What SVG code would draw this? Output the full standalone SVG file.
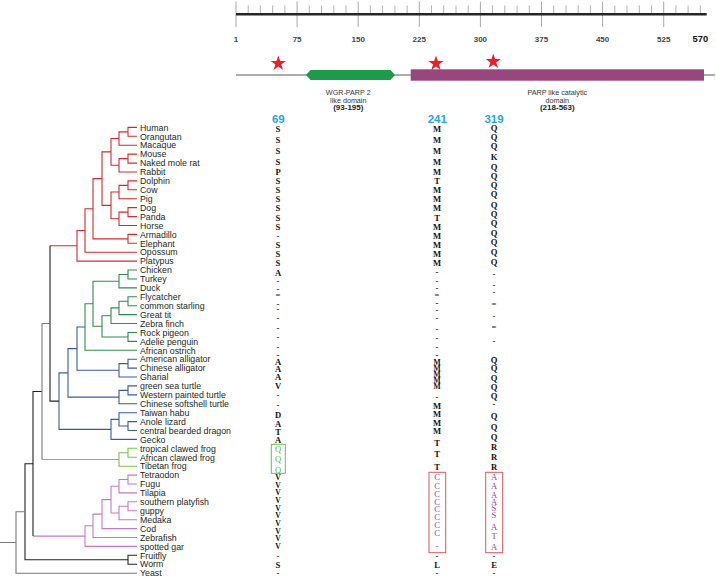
<svg xmlns="http://www.w3.org/2000/svg" width="716" height="577" viewBox="0 0 716 577">
<style>
.sp{font-family:"Liberation Sans",Arial,sans-serif;font-size:8.8px;fill:#231f20}
.aa{font-family:"Liberation Serif","Times New Roman",serif;font-size:8.6px;font-weight:bold;fill:#111;text-anchor:middle}
.tight{font-size:7.6px}
.pu{font-weight:normal;fill:#9e3f97}
.gr{font-weight:normal;fill:#5fb638}
.num{font-family:"Liberation Sans",Arial,sans-serif;font-size:11.5px;font-weight:bold;fill:#2aa4dd;text-anchor:middle}
.sc{font-family:"Liberation Sans",Arial,sans-serif;font-size:8px;font-weight:bold;fill:#444;text-anchor:middle}
.dl{font-family:"Liberation Sans",Arial,sans-serif;font-size:7.2px;fill:#333;text-anchor:middle}
.db{font-family:"Liberation Sans",Arial,sans-serif;font-size:8px;font-weight:bold;fill:#222;text-anchor:middle}
.t{fill:none;stroke-width:1.1}
</style>
<defs>
<polygon id="star" points="0,-8 1.82,-2.5 7.61,-2.47 2.94,0.96 4.7,6.47 0,3.1 -4.7,6.47 -2.94,0.96 -7.61,-2.47 -1.82,-2.5" fill="#e8202a"/>
</defs>
<rect width="716" height="577" fill="#fff"/>

<g id="scale">
<path d="M236 1.5V27M297.1 1.5V27M358.2 1.5V27M419.3 1.5V27M480.4 1.5V27M541.5 1.5V27M602.6 1.5V27M663.7 1.5V27" stroke="#a8a8a8" stroke-width="1"/>
<path d="M248.2 5.5V14M260.4 5.5V14M272.7 5.5V14M284.9 5.5V14M309.3 5.5V14M321.5 5.5V14M333.8 5.5V14M346 5.5V14M370.4 5.5V14M382.6 5.5V14M394.9 5.5V14M407.1 5.5V14M431.5 5.5V14M443.7 5.5V14M456 5.5V14M468.2 5.5V14M492.6 5.5V14M504.8 5.5V14M517.1 5.5V14M529.3 5.5V14M553.7 5.5V14M566 5.5V14M578.2 5.5V14M590.4 5.5V14M614.8 5.5V14M627 5.5V14M639.3 5.5V14M651.5 5.5V14M675.9 5.5V14M688.1 5.5V14M700.4 5.5V14" stroke="#a8a8a8" stroke-width="0.9"/>
<line x1="236" y1="14.3" x2="706.7" y2="14.3" stroke="#262626" stroke-width="2.6"/>
<text class="sc" x="236" y="42">1</text>
<text class="sc" x="297.1" y="42">75</text>
<text class="sc" x="358.2" y="42">150</text>
<text class="sc" x="419.3" y="42">225</text>
<text class="sc" x="480.4" y="42">300</text>
<text class="sc" x="541.5" y="42">375</text>
<text class="sc" x="602.6" y="42">450</text>
<text class="sc" x="663.7" y="42">525</text>
<text class="sc" x="700.3" y="42" style="font-size:9.4px;fill:#111">570</text>
</g>

<g id="protein">
<line x1="236" y1="75" x2="715" y2="75" stroke="#5a5a5a" stroke-width="1.2"/>
<polygon id="wgr" points="306,75 310.5,70 390.5,70 395,75 390.5,80 310.5,80" fill="#1e9b4a"/>
<rect id="parp" x="410.7" y="69.3" width="293.3" height="11.4" fill="#97477d"/>
<use href="#star" x="278.3" y="63.5"/>
<use href="#star" x="436" y="63.5"/>
<use href="#star" x="493.3" y="61.5"/>
<text class="dl" x="348.3" y="95">WGR-PARP 2</text>
<text class="dl" x="348.3" y="102.5">like domain</text>
<text class="db" x="348.3" y="110">(93-195)</text>
<text class="dl" x="557.3" y="95">PARP like catalytic</text>
<text class="dl" x="557.3" y="102.5">domain</text>
<text class="db" x="557.3" y="110">(218-563)</text>
</g>

<g id="connectors">
<path class="t" stroke="#d42a2f" d="M137 127.4H128V136.3H137M128 131.85H119V145.2H137M119 138.5H111V165.3H119M137 154.1H128V163.1H137M128 158.6H119V172H137M111 151.9H102V205.4H111M137 180.9H128V189.8H137M128 185.35H119V198.7H137M119 192H111V218.8H119M137 207.6H128V216.6H137M128 212.1H119V225.5H137M102 178.65H93V238.85H128M137 234.4H128V243.3H137M93 208.75H85V252.2H137M85 230.5H77V261.1H137M77 245.8H50"/>
<path class="t" stroke="#2f8a4e" d="M137 270H128V279H137M128 274.5H119V287.9H137M137 296.8H128V305.7H137M128 301.25H119V314.6H137M119 307.9H111V323.5H137M137 332.5H128V341.4H137M111 315.7H102V336.95H128M119 281.2H93V326.3H102M93 303.75H85V350.3H137"/>
<path class="t" stroke="#3a5aa6" d="M85 327H77V370.3H119M137 359.2H128V368.1H137M128 363.65H119V377H137M77 348.65H68V397.1H119M137 385.9H128V394.9H137M128 390.4H119V403.8H137M68 372.9H59V429.4H111M137 421.6H128V430.5H137M128 426.05H119V412.7H137M119 419.4H111V439.4H137"/>
<path class="t" stroke="#7cc142" d="M137 448.3H128V457.3H137M128 452.8H119V466.2H137M119 459.5H42"/>
<path class="t" stroke="#c47ac3" d="M137 475.1H128V484H137M128 479.55H119V492.9H137M137 501.8H128V510.8H137M128 506.3H119V519.7H137M119 486.2H111V513H119M111 499.6H102V528.6H137M102 514.1H93V537.5H137M93 525.8H85V546.4H137M85 536.1H33"/>
<path class="t" stroke="#222" d="M50 245.8V401.15H59M42 391.5H33V536.1M33 463.8H25V559.75H128M137 555.3H128V564.2H137"/>
<path class="t" stroke="#777" stroke-width="2" d="M42 323.5V459.5M42 323.5H50"/>
<path class="t" stroke="#777" d="M25 511.8H16V573.2H137M0 542.5H16"/>
</g>

<g class="sp">
<g id="n-human"><text x="140" y="130.6">Human</text></g>
<g id="n-orangutan"><text x="140" y="139.5">Orangutan</text></g>
<g id="n-macaque"><text x="140" y="148.4">Macaque</text></g>
<g id="n-mouse"><text x="140" y="157.3">Mouse</text></g>
<g id="n-nmr"><text x="140" y="166.3">Naked mole rat</text></g>
<g id="n-rabbit"><text x="140" y="175.2">Rabbit</text></g>
<g id="n-dolphin"><text x="140" y="184.1">Dolphin</text></g>
<g id="n-cow"><text x="140" y="193">Cow</text></g>
<g id="n-pig"><text x="140" y="201.9">Pig</text></g>
<g id="n-dog"><text x="140" y="210.8">Dog</text></g>
<g id="n-panda"><text x="140" y="219.8">Panda</text></g>
<g id="n-horse"><text x="140" y="228.7">Horse</text></g>
<g id="n-armadillo"><text x="140" y="237.6">Armadillo</text></g>
<g id="n-elephant"><text x="140" y="246.5">Elephant</text></g>
<g id="n-opossum"><text x="140" y="255.4">Opossum</text></g>
<g id="n-platypus"><text x="140" y="264.3">Platypus</text></g>
<g id="n-chicken"><text x="140" y="273.2">Chicken</text></g>
<g id="n-turkey"><text x="140" y="282.2">Turkey</text></g>
<g id="n-duck"><text x="140" y="291.1">Duck</text></g>
<g id="n-flycatcher"><text x="140" y="300">Flycatcher</text></g>
<g id="n-starling"><text x="140" y="308.9">common starling</text></g>
<g id="n-greattit"><text x="140" y="317.8">Great tit</text></g>
<g id="n-zebrafinch"><text x="140" y="326.7">Zebra finch</text></g>
<g id="n-rockpigeon"><text x="140" y="335.7">Rock pigeon</text></g>
<g id="n-adelie"><text x="140" y="344.6">Adelie penguin</text></g>
<g id="n-ostrich"><text x="140" y="353.5">African ostrich</text></g>
<g id="n-amalligator"><text x="140" y="362.4">American alligator</text></g>
<g id="n-challigator"><text x="140" y="371.3">Chinese alligator</text></g>
<g id="n-gharial"><text x="140" y="380.2">Gharial</text></g>
<g id="n-seaturtle"><text x="140" y="389.1">green sea turtle</text></g>
<g id="n-paintedturtle"><text x="140" y="398.1">Western painted turtle</text></g>
<g id="n-softshell"><text x="140" y="407">Chinese softshell turtle</text></g>
<g id="n-habu"><text x="140" y="415.9">Taiwan habu</text></g>
<g id="n-anole"><text x="140" y="424.8">Anole lizard</text></g>
<g id="n-dragon"><text x="140" y="433.7">central bearded dragon</text></g>
<g id="n-gecko"><text x="140" y="442.6">Gecko</text></g>
<g id="n-tropfrog"><text x="140" y="451.5">tropical clawed frog</text></g>
<g id="n-affrog"><text x="140" y="460.5">African clawed frog</text></g>
<g id="n-tibfrog"><text x="140" y="469.4">Tibetan frog</text></g>
<g id="n-tetraodon"><text x="140" y="478.3">Tetraodon</text></g>
<g id="n-fugu"><text x="140" y="487.2">Fugu</text></g>
<g id="n-tilapia"><text x="140" y="496.1">Tilapia</text></g>
<g id="n-platyfish"><text x="140" y="505">southern platyfish</text></g>
<g id="n-guppy"><text x="140" y="514">guppy</text></g>
<g id="n-medaka"><text x="140" y="522.9">Medaka</text></g>
<g id="n-cod"><text x="140" y="531.8">Cod</text></g>
<g id="n-zebrafish"><text x="140" y="540.7">Zebrafish</text></g>
<g id="n-gar"><text x="140" y="549.6">spotted gar</text></g>
<g id="n-fruitfly"><text x="140" y="558.5">Fruitfly</text></g>
<g id="n-worm"><text x="140" y="567.4">Worm</text></g>
<g id="n-yeast"><text x="140" y="576.4">Yeast</text></g>
</g>

<g id="site-labels">
<text class="num" x="278.3" y="122.5">69</text>
<text class="num" x="437.3" y="122.5">241</text>
<text class="num" x="494" y="122.5">319</text>
</g>

<g id="boxes" fill="none" stroke-width="1">
<rect x="271.3" y="444.3" width="14" height="29" stroke="#6cbd45"/>
<rect x="429" y="472.3" width="16.7" height="80.4" stroke="#e0575c"/>
<rect x="485.7" y="472.3" width="17" height="80.4" stroke="#e0575c"/>
</g>

<g id="col69" class="aa">
<text x="278" y="132.3">S</text><text x="278" y="143">S</text><text x="278" y="153.7">S</text><text x="278" y="164.7">S</text><text x="278" y="174.7">P</text><text x="278" y="184">S</text><text x="278" y="193">S</text><text x="278" y="202">S</text><text x="278" y="211.3">S</text><text x="278" y="220.7">S</text><text x="278" y="229.7">S</text><text x="278" y="238.5">-</text><text x="278" y="248">S</text><text x="278" y="257">S</text><text x="278" y="266.3">S</text>
<text x="278" y="275.5">A</text>
<text x="278" y="284">-</text><text x="278" y="292.3">-</text><text x="278" y="298">=</text><text x="278" y="306.5">-</text><text x="278" y="311.5">-</text><text x="278" y="320.5">-</text><text x="278" y="331.3">-</text><text x="278" y="340.3">-</text><text x="278" y="349.8">-</text><text x="278" y="357.8">-</text>
<text x="278" y="364.5">A</text><text x="278" y="371.5">A</text><text x="278" y="380">A</text><text x="278" y="388.5">V</text><text x="278" y="398">-</text><text x="278" y="407.5">-</text><text x="278" y="417.5">D</text><text x="278" y="426.5">A</text><text x="278" y="434.5">T</text><text x="278" y="442.5">A</text>
<text class="gr" x="278" y="451.5">Q</text><text class="gr" x="278" y="462.3">Q</text><text class="gr" x="278" y="473">Q</text>
<g class="tight"><text x="278" y="480">V</text><text x="278" y="487.7">V</text><text x="278" y="495.3">V</text><text x="278" y="503">V</text><text x="278" y="510.7">V</text><text x="278" y="518.3">V</text><text x="278" y="526">V</text><text x="278" y="533.7">V</text><text x="278" y="541.3">V</text><text x="278" y="549">V</text></g>
<text x="278" y="559.2">-</text><text x="278" y="568">S</text><text x="278" y="575.8">-</text>
</g>

<g id="col241" class="aa">
<text x="437" y="132.3">M</text><text x="437" y="143">M</text><text x="437" y="153.7">M</text><text x="437" y="164.7">M</text><text x="437" y="174.7">M</text><text x="437" y="184">T</text><text x="437" y="193">M</text><text x="437" y="202">M</text><text x="437" y="211.3">M</text><text x="437" y="220.7">T</text><text x="437" y="229.7">M</text><text x="437" y="239">M</text><text x="437" y="248">M</text><text x="437" y="257">M</text><text x="437" y="266.3">M</text>
<text x="437" y="274.5">-</text><text x="437" y="284.2">-</text><text x="437" y="290.8">-</text><text x="437" y="297.5">=</text><text x="437" y="305.8">-</text><text x="437" y="312.5">-</text><text x="437" y="320.8">-</text><text x="437" y="331.5">-</text><text x="437" y="340.8">-</text><text x="437" y="350.2">-</text><text x="437" y="358.2">-</text>
<g class="tight"><text x="437" y="365">M</text><text x="437" y="371">M</text><text x="437" y="377">M</text><text x="437" y="383">M</text><text x="437" y="389">M</text></g><text x="437" y="399.5">-</text><text x="437" y="409">M</text><text x="437" y="417">M</text><text x="437" y="425.5">M</text><text x="437" y="434">M</text>
<text x="437" y="446.3">T</text><text x="437" y="457">T</text><text x="437" y="469.7">T</text>
<text class="pu" x="437" y="479.7">C</text><text class="pu" x="437" y="488.5">C</text><text class="pu" x="437" y="497">C</text><text class="pu" x="437" y="504.5">C</text><text class="pu" x="437" y="512">C</text><text class="pu" x="437" y="519.5">C</text><text class="pu" x="437" y="527.5">C</text><text class="pu" x="437" y="536">C</text><text class="pu" x="437" y="548.5">-</text>
<text x="437" y="559.2">-</text><text x="437" y="568">L</text><text x="437" y="575.8">-</text>
</g>

<g id="col319" class="aa">
<text x="494" y="131">Q</text><text x="494" y="140">Q</text><text x="494" y="149">Q</text><text x="494" y="159.7">K</text><text x="494" y="169.7">Q</text><text x="494" y="179">Q</text><text x="494" y="188">Q</text><text x="494" y="197">Q</text><text x="494" y="208">Q</text><text x="494" y="217">Q</text><text x="494" y="226">Q</text><text x="494" y="235.7">Q</text><text x="494" y="245">Q</text><text x="494" y="254.7">Q</text><text x="494" y="264.7">Q</text>
<text x="494" y="276.5">-</text><text x="494" y="287.5">-</text><text x="494" y="294.8">-</text><text x="494" y="307">=</text><text x="494" y="318.5">-</text><text x="494" y="329.5">=</text><text x="494" y="343.5">-</text><text x="494" y="357.5">.</text>
<text x="494" y="363">Q</text><text x="494" y="371.3">Q</text><text x="494" y="380.7">Q</text><text x="494" y="389.7">Q</text><text x="494" y="398.7">Q</text><text x="494" y="406.8">-</text><text x="494" y="419">Q</text><text x="494" y="429.7">Q</text><text x="494" y="439.7">Q</text>
<text x="494" y="450.3">R</text><text x="494" y="460.3">R</text><text x="494" y="470.3">R</text>
<text class="pu" x="494" y="479.7">A</text><text class="pu" x="494" y="489">A</text><text class="pu" x="494" y="498">A</text><text class="pu" x="494" y="504.7">A</text><text class="pu" x="494" y="511.3">S</text><text class="pu" x="494" y="518">S</text><text class="pu" x="494" y="529.7">A</text><text class="pu" x="494" y="539">T</text><text class="pu" x="494" y="549.7">A</text>
<text x="494" y="559.2">-</text><text x="494" y="568">E</text><text x="494" y="575.8">-</text>
</g>
</svg>
